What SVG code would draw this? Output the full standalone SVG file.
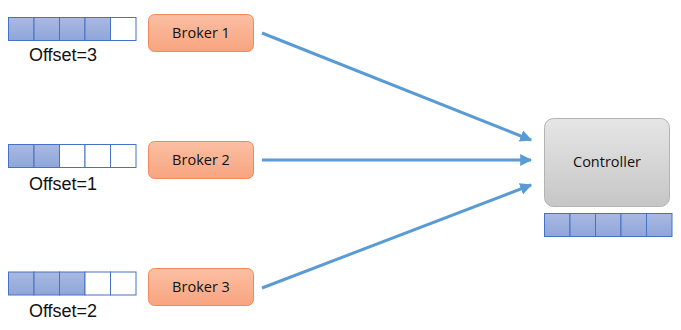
<svg xmlns="http://www.w3.org/2000/svg" width="681" height="330" viewBox="0 0 681 330">
<defs>
<linearGradient id="gq" x1="0" y1="0" x2="0" y2="1"><stop offset="0" stop-color="#a9b9e2"/><stop offset="1" stop-color="#8ea6d9"/></linearGradient>
<linearGradient id="gb" x1="0" y1="0" x2="0" y2="1"><stop offset="0" stop-color="#fbbfa3"/><stop offset="1" stop-color="#f8a47f"/></linearGradient>
<linearGradient id="gc" x1="0" y1="0" x2="0" y2="1"><stop offset="0" stop-color="#e6e6e6"/><stop offset="1" stop-color="#c6c6c6"/></linearGradient>
<marker id="ah" viewBox="0 0 10 10" refX="9" refY="5" markerWidth="4" markerHeight="4" orient="auto"><path d="M0,0 L10,5 L0,10 Z" fill="#5b9bd5"/></marker>
</defs>
<style>
.f{fill:url(#gq);stroke:#4472c4;stroke-width:1}
.e{fill:#fff;stroke:#4472c4;stroke-width:1}
.b{fill:url(#gb);stroke:#f08a58;stroke-width:1}
.c{fill:url(#gc);stroke:#b3b3b3;stroke-width:1}
.t{font-family:"Open Sans","Liberation Sans",sans-serif;font-size:14.5px;fill:#111;text-anchor:middle}
.o{font-family:"Liberation Sans",sans-serif;font-size:18px;fill:#111;text-anchor:middle}
.a{stroke:#5b9bd5;stroke-width:3;fill:none;marker-end:url(#ah)}
</style>
<g id="queue1">
<rect class="f" x="8.5" y="17.5" width="25.5" height="23"/><rect class="f" x="34" y="17.5" width="25.5" height="23"/><rect class="f" x="59.5" y="17.5" width="25.5" height="23"/><rect class="f" x="85" y="17.5" width="25.5" height="23"/><rect class="e" x="110.5" y="17.5" width="25.5" height="23"/>
<text class="o" x="63" y="61">Offset=3</text>
</g>
<g id="broker1"><rect class="b" x="148.5" y="14.5" width="105" height="37" rx="6"/><text class="t" x="201" y="38">Broker 1</text></g>
<g id="queue2">
<rect class="f" x="8.5" y="144.5" width="25.5" height="23"/><rect class="f" x="34" y="144.5" width="25.5" height="23"/><rect class="e" x="59.5" y="144.5" width="25.5" height="23"/><rect class="e" x="85" y="144.5" width="25.5" height="23"/><rect class="e" x="110.5" y="144.5" width="25.5" height="23"/>
<text class="o" x="63" y="190">Offset=1</text>
</g>
<g id="broker2"><rect class="b" x="148.5" y="141.5" width="105" height="37" rx="6"/><text class="t" x="201" y="165">Broker 2</text></g>
<g id="queue3">
<rect class="f" x="8.5" y="272" width="25.5" height="23"/><rect class="f" x="34" y="272" width="25.5" height="23"/><rect class="f" x="59.5" y="272" width="25.5" height="23"/><rect class="e" x="85" y="272" width="25.5" height="23"/><rect class="e" x="110.5" y="272" width="25.5" height="23"/>
<text class="o" x="63" y="317">Offset=2</text>
</g>
<g id="broker3"><rect class="b" x="148.5" y="268.5" width="105" height="37" rx="6"/><text class="t" x="201" y="292">Broker 3</text></g>
<g id="controller"><rect class="c" x="544.5" y="118.5" width="125" height="88" rx="9"/><text class="t" x="607" y="167">Controller</text>
<rect class="f" x="544.5" y="213.5" width="25.5" height="23"/><rect class="f" x="570" y="213.5" width="25.5" height="23"/><rect class="f" x="595.5" y="213.5" width="25.5" height="23"/><rect class="f" x="621" y="213.5" width="25.5" height="23"/><rect class="f" x="646.5" y="213.5" width="25.5" height="23"/>
</g>
<g id="connectors">
<line class="a" x1="262" y1="33" x2="531" y2="140"/>
<line class="a" x1="262" y1="160" x2="531" y2="160"/>
<line class="a" x1="262" y1="288" x2="531" y2="185"/>
</g>
</svg>
